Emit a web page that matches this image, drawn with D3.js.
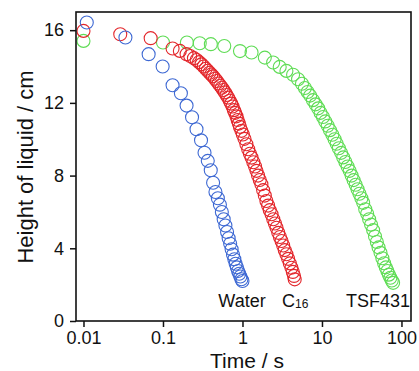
<!DOCTYPE html>
<html>
<head>
<meta charset="utf-8">
<script src="https://cdn.jsdelivr.net/npm/d3@7"></script>
<style>
  body { margin: 0; background: #fff; }
  text { font-family: "Liberation Sans", Arial, sans-serif; fill: #111; }
</style>
</head>
<body>
<div id="chart"></div>
<script>
// time axis ticks and height ticks
var xTicks = [0.01, 0.1, 1, 10, 100];
var yTicks = [0, 4, 8, 12, 16];

// water
var waterT = [0.011, 0.0337, 0.066, 0.099, 0.132, 0.168, 0.198, 0.232, 0.264, 0.301, 0.333, 0.366, 0.399, 0.427, 0.457, 0.49, 0.52, 0.55, 0.58, 0.61, 0.64, 0.67, 0.70, 0.73, 0.76, 0.79, 0.82, 0.85, 0.88, 0.91, 0.94, 0.97, 1.0];
var waterH = [16.42, 15.6, 14.68, 14.0, 12.97, 12.53, 11.85, 11.21, 10.55, 9.94, 9.26, 8.81, 8.29, 7.61, 7.1, 6.75, 6.4, 6.0, 5.6, 5.25, 4.9, 4.55, 4.25, 3.95, 3.65, 3.4, 3.15, 2.95, 2.75, 2.6, 2.45, 2.3, 2.2];

// C16
var c16T = [0.01, 0.029, 0.070, 0.132, 0.163, 0.198, 0.22, 0.245, 0.265, 0.285, 0.305, 0.325, 0.345, 0.365, 0.385, 0.405, 0.425, 0.45, 0.475, 0.50, 0.525, 0.55, 0.575, 0.60, 0.63, 0.66, 0.69, 0.72, 0.75, 0.78, 0.81, 0.84, 0.87, 0.90, 0.93, 0.97, 1.01, 1.06, 1.12, 1.18, 1.24, 1.30, 1.37, 1.44, 1.50, 1.57, 1.65, 1.73, 1.82, 1.91, 2.0, 2.1, 2.2, 2.32, 2.44, 2.56, 2.68, 2.82, 2.96, 3.1, 3.25, 3.4, 3.57, 3.75, 3.94, 4.13, 4.3, 4.45, 4.54];
var c16H = [15.96, 15.78, 15.56, 14.99, 14.86, 14.68, 14.58, 14.46, 14.36, 14.24, 14.12, 14.0, 13.88, 13.77, 13.66, 13.56, 13.46, 13.33, 13.2, 13.07, 12.94, 12.83, 12.71, 12.58, 12.43, 12.29, 12.12, 11.96, 11.8, 11.6, 11.45, 11.26, 11.06, 10.86, 10.68, 10.46, 10.26, 10.02, 9.72, 9.45, 9.2, 8.99, 8.73, 8.5, 8.26, 8.0, 7.76, 7.52, 7.2, 6.9, 6.6, 6.35, 6.1, 5.87, 5.6, 5.36, 5.13, 4.85, 4.62, 4.4, 4.15, 3.9, 3.67, 3.42, 3.17, 2.93, 2.7, 2.48, 2.29];

// TSF431
var tsfT = [0.01, 0.1, 0.2, 0.29, 0.40, 0.59, 0.93, 1.3, 1.91, 2.43, 2.94, 3.57, 4.33, 5.0, 5.6, 6.1, 6.6, 7.1, 7.7, 8.3, 8.95, 9.6, 10.3, 11.0, 11.8, 12.6, 13.5, 14.4, 15.3, 16.3, 17.4, 18.5, 19.7, 21.0, 22.3, 23.6, 25.0, 26.5, 28.0, 29.6, 31.3, 33.0, 35.0, 37.0, 39.2, 41.5, 44.0, 46.5, 49.0, 51.5, 54.5, 57.5, 60.5, 63.5, 66.5, 69.5, 72.5, 75.5, 78.5];
var tsfH = [15.41, 15.32, 15.32, 15.28, 15.23, 15.13, 14.85, 14.77, 14.49, 14.22, 13.98, 13.76, 13.55, 13.3, 13.05, 12.82, 12.6, 12.4, 12.15, 11.92, 11.7, 11.45, 11.22, 10.98, 10.74, 10.5, 10.25, 10.0, 9.75, 9.5, 9.25, 9.0, 8.75, 8.5, 8.26, 8.0, 7.75, 7.5, 7.25, 7.0, 6.75, 6.5, 6.15, 5.9, 5.6, 5.3, 5.0, 4.65, 4.35, 4.05, 3.75, 3.45, 3.18, 2.95, 2.75, 2.55, 2.38, 2.23, 2.1];

var W = 419, H = 371;
var m = {left: 76, right: 411, top: 12, bottom: 321};

var svg = d3.select('#chart')
  .append('svg')
  .attr('width', W)
  .attr('height', H);

var x = d3.scaleLog().domain([0.00805, 131.8]).range([m.left, m.right]);
var y = d3.scaleLinear().domain([0, 17]).range([m.bottom, m.top]);

//series, drawn back to front
var series = [
  {t: tsfT, h: tsfH, color: '#5fdc55'},
  {t: c16T, h: c16H, color: '#e3262b'},
  {t: waterT, h: waterH, color: '#3d68d3'}
];

series.forEach(function(s) {
  svg.append('g')
    .selectAll('circle')
    .data(s.t.map(function(t, i) { return {t: t, h: s.h[i]}; }))
    .enter().append('circle')
      .attr('cx', function(d) { return x(d.t); })
      .attr('cy', function(d) { return y(d.h); })
      .attr('r', 6.5)
      .attr('fill', 'none')
      .attr('stroke', s.color)
      .attr('stroke-width', 1.1);
});

//axes
var xAxis = svg.append('g')
  .attr('transform', 'translate(0,' + m.bottom + ')')
  .call(d3.axisBottom(x).tickValues(xTicks).tickSize(6).tickPadding(4)
    .tickFormat(function(d) { return String(d); }));

var yAxis = svg.append('g')
  .attr('transform', 'translate(' + m.left + ',0)')
  .call(d3.axisLeft(y).tickValues(yTicks).tickSize(6).tickPadding(6));

[xAxis, yAxis].forEach(function(a) {
  a.select('.domain').remove();
  a.selectAll('line').attr('stroke', '#111').attr('stroke-width', 1.5);
  a.selectAll('text').style('font-size', '18px').attr('fill', '#111');
});

//frame
svg.append('rect')
  .attr('x', m.left)
  .attr('y', m.top)
  .attr('width', m.right - m.left)
  .attr('height', m.bottom - m.top)
  .attr('fill', 'none')
  .attr('stroke', '#111')
  .attr('stroke-width', 1.6);

//axis titles
svg.append('text')
  .attr('x', 247)
  .attr('y', 368)
  .attr('text-anchor', 'middle')
  .style('font-size', '21px')
  .text('Time / s');

svg.append('text')
  .attr('transform', 'translate(33,167) rotate(-90)')
  .attr('text-anchor', 'middle')
  .style('font-size', '22px')
  .text('Height of liquid / cm');

//labels
svg.append('text')
  .attr('x', 242)
  .attr('y', 307)
  .attr('text-anchor', 'middle')
  .style('font-size', '18px')
  .text('Water');

var c16 = svg.append('text')
  .attr('x', 282)
  .attr('y', 307)
  .style('font-size', '18px');
c16.append('tspan').text('C');
c16.append('tspan').style('font-size', '12px').attr('dy', 1).text('16');

svg.append('text')
  .attr('x', 410)
  .attr('y', 307)
  .attr('text-anchor', 'end')
  .style('font-size', '18px')
  .text('TSF431');
</script>
</body>
</html>
